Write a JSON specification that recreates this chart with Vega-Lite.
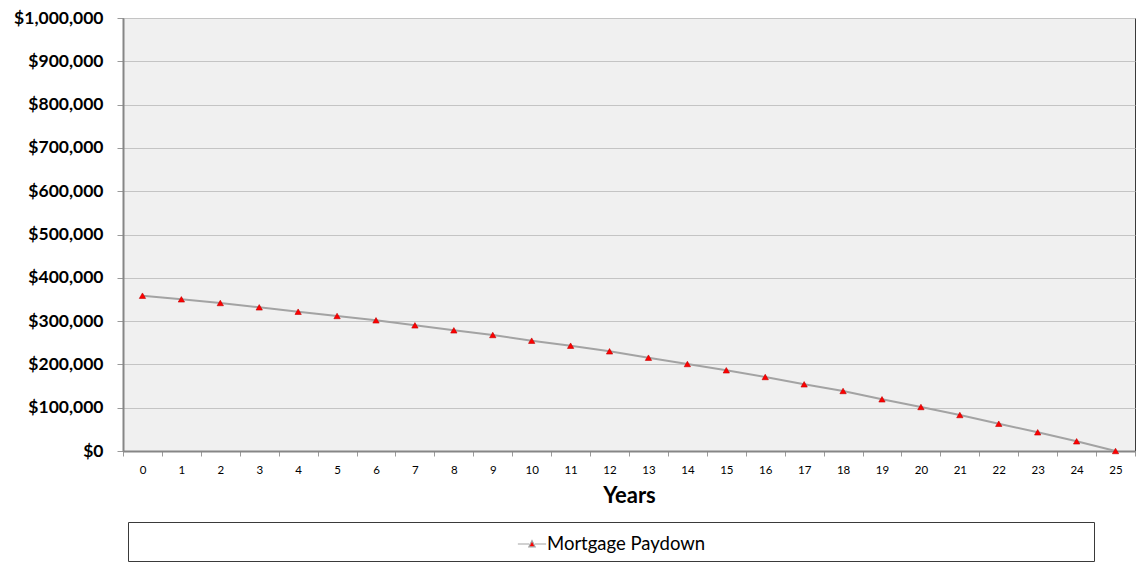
{
  "$schema": "https://vega.github.io/schema/vega-lite/v6.json",
  "width": 1012,
  "height": 433,
  "autosize": {"type": "none"},
  "padding": {"left": 123, "top": 18, "right": 6, "bottom": 111},
  "background": "#ffffff",
  "config": {
    "font": "Lato",
    "view": {"fill": "#f0f0f0", "stroke": "#3a3a3a", "strokeWidth": 1}
  },
  "data": {
    "values": [
      {"year": 0, "balance": 358700, "series": "Mortgage Paydown"},
      {"year": 1, "balance": 350300, "series": "Mortgage Paydown"},
      {"year": 2, "balance": 341800, "series": "Mortgage Paydown"},
      {"year": 3, "balance": 331800, "series": "Mortgage Paydown"},
      {"year": 4, "balance": 321700, "series": "Mortgage Paydown"},
      {"year": 5, "balance": 311800, "series": "Mortgage Paydown"},
      {"year": 6, "balance": 301800, "series": "Mortgage Paydown"},
      {"year": 7, "balance": 290200, "series": "Mortgage Paydown"},
      {"year": 8, "balance": 278700, "series": "Mortgage Paydown"},
      {"year": 9, "balance": 267900, "series": "Mortgage Paydown"},
      {"year": 10, "balance": 254800, "series": "Mortgage Paydown"},
      {"year": 11, "balance": 243200, "series": "Mortgage Paydown"},
      {"year": 12, "balance": 230200, "series": "Mortgage Paydown"},
      {"year": 13, "balance": 215500, "series": "Mortgage Paydown"},
      {"year": 14, "balance": 200900, "series": "Mortgage Paydown"},
      {"year": 15, "balance": 186400, "series": "Mortgage Paydown"},
      {"year": 16, "balance": 170900, "series": "Mortgage Paydown"},
      {"year": 17, "balance": 154000, "series": "Mortgage Paydown"},
      {"year": 18, "balance": 138600, "series": "Mortgage Paydown"},
      {"year": 19, "balance": 119400, "series": "Mortgage Paydown"},
      {"year": 20, "balance": 101600, "series": "Mortgage Paydown"},
      {"year": 21, "balance": 83100, "series": "Mortgage Paydown"},
      {"year": 22, "balance": 63000, "series": "Mortgage Paydown"},
      {"year": 23, "balance": 43200, "series": "Mortgage Paydown"},
      {"year": 24, "balance": 22400, "series": "Mortgage Paydown"},
      {"year": 25, "balance": 0, "series": "Mortgage Paydown"}
    ]
  },
  "encoding": {
    "x": {
      "field": "year",
      "type": "ordinal",
      "sort": null,
      "scale": {"type": "band", "paddingInner": 0, "paddingOuter": 0},
      "axis": {
        "title": "Years",
        "titleFont": "Lato",
        "titleFontSize": 22,
        "titleFontWeight": "bold",
        "titleColor": "#000000",
        "titlePadding": 10,
        "labelAngle": 0,
        "labelFontSize": 11.5,
        "labelColor": "#000000",
        "labelPadding": 8,
        "tickBand": "extent",
        "tickSize": 5,
        "tickColor": "#9a9a9a",
        "domainColor": "#868686",
        "domainWidth": 2,
        "grid": false
      }
    },
    "y": {
      "field": "balance",
      "type": "quantitative",
      "scale": {"domain": [0, 1000000], "nice": false},
      "axis": {
        "title": null,
        "values": [0, 100000, 200000, 300000, 400000, 500000, 600000, 700000, 800000, 900000, 1000000],
        "format": "$,.0f",
        "labelFontSize": 17.5,
        "labelFontWeight": "bold",
        "labelColor": "#000000",
        "labelPadding": 14,
        "tickSize": 6,
        "tickColor": "#9a9a9a",
        "domainColor": "#868686",
        "domainWidth": 2,
        "gridColor": "#c4c4c4",
        "gridWidth": 1
      }
    }
  },
  "layer": [
    {
      "mark": {"type": "line", "color": "#a3a3a3", "strokeWidth": 2}
    },
    {
      "mark": {"type": "point", "shape": "triangle-up", "filled": true, "size": 40, "stroke": "#c00000", "strokeWidth": 0.6, "opacity": 1},
      "encoding": {
        "fill": {
          "field": "series",
          "type": "nominal",
          "scale": {"range": ["#ff0000"]},
          "legend": {
            "title": "\u00a0",
            "titleOrient": "right",
            "titleFontSize": 1,
            "titlePadding": 382,
            "orient": "none",
            "legendX": 5,
            "legendY": 504,
            "direction": "vertical",
            "strokeColor": "#3a3a3a",
            "fillColor": "#ffffff",
            "padding": 7,
            "symbolType": "M-1,0H-0.2M0.2,0H1M-0.22,0.2L0,-0.24L0.22,0.2Z",
            "symbolSize": 800,
            "symbolStrokeColor": "#a3a3a3",
            "symbolStrokeWidth": 1.2,
            "symbolOffset": 382,
            "labelOffset": 0,
            "labelLimit": 1000,
            "labelFont": "Lato",
            "labelFontSize": 18.5,
            "labelColor": "#000000"
          }
        }
      }
    }
  ]
}
